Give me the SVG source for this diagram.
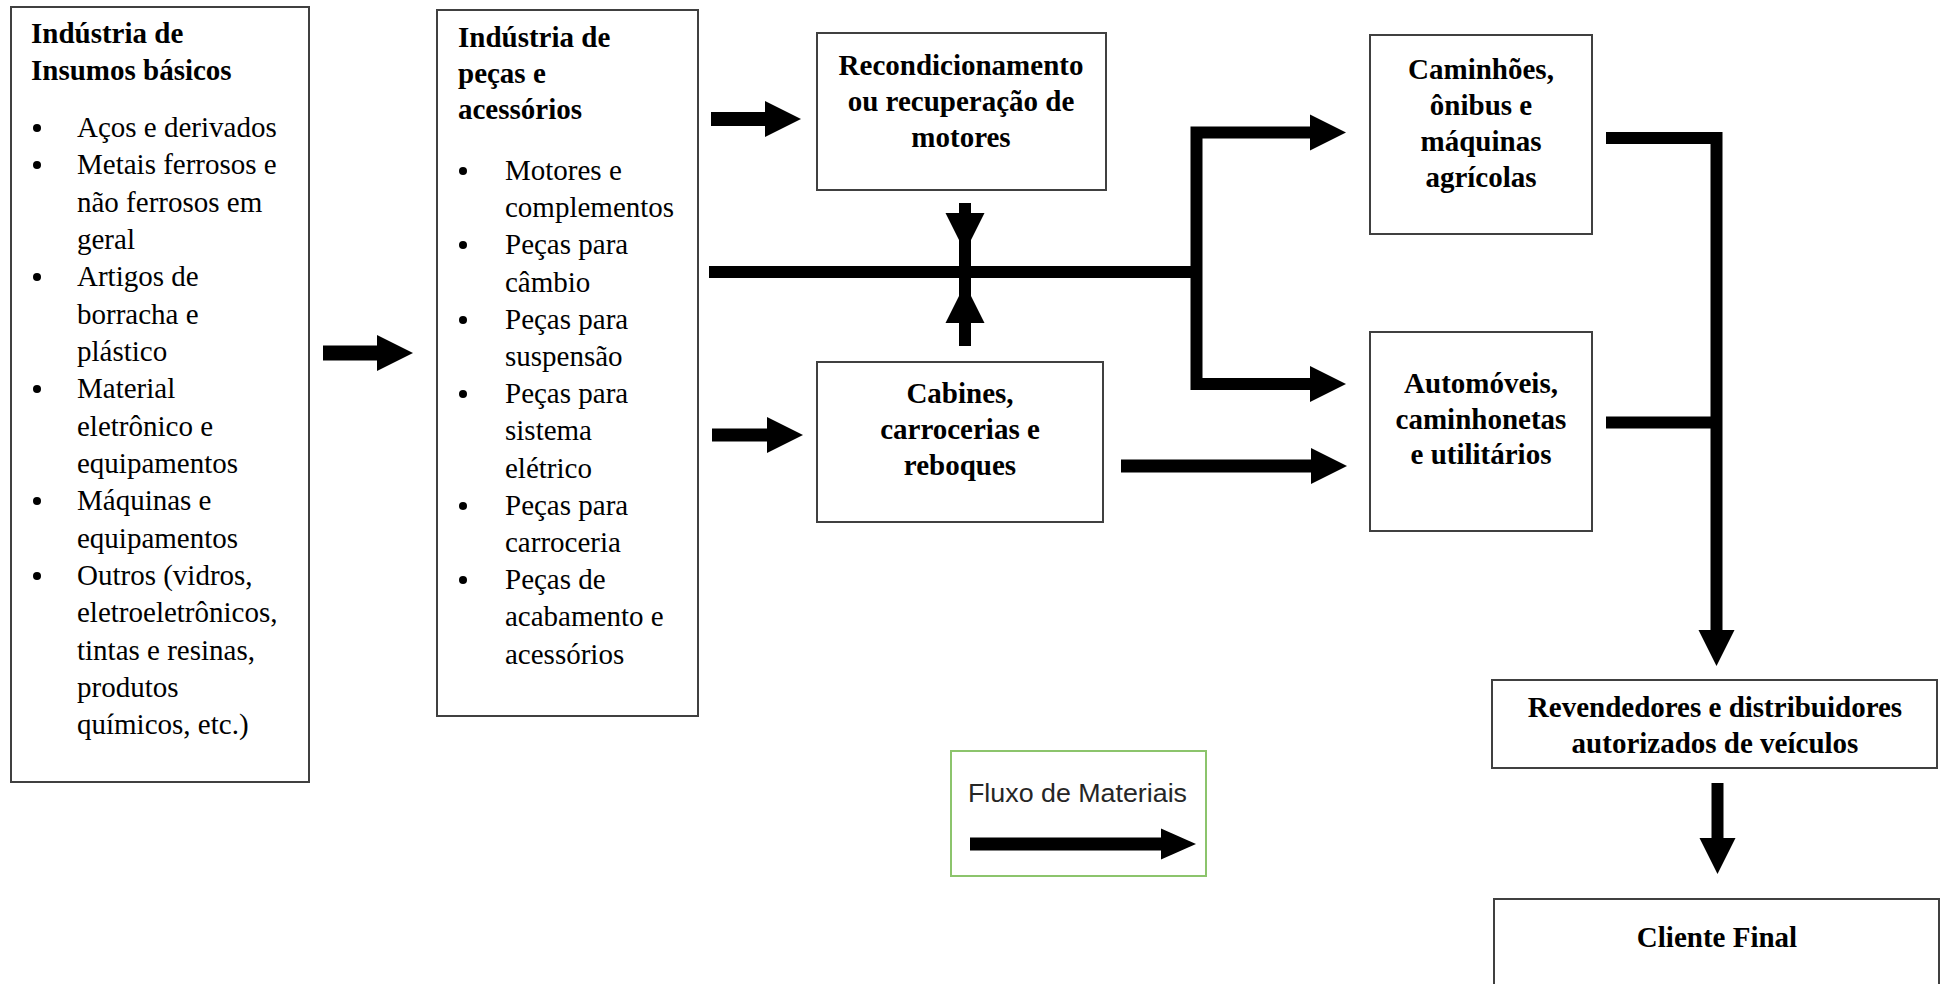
<svg xmlns="http://www.w3.org/2000/svg" width="1946" height="984" viewBox="0 0 1946 984">
<style>
.box{fill:#fff;stroke:#404040;stroke-width:2}
.t{font-family:"Liberation Serif","Times New Roman",serif;font-size:29px;fill:#000}
.b{font-weight:bold}
.c{text-anchor:middle}
.ln{fill:none;stroke:#000;stroke-width:12;stroke-linejoin:miter}
.hd{fill:#000}
</style>
<defs>
<marker id="ah" markerUnits="userSpaceOnUse" markerWidth="36" markerHeight="36" refX="0" refY="18" orient="auto" overflow="visible">
<path d="M0,0 L36,18 L0,36 z" fill="#000"/>
</marker>
</defs>
<rect width="1946" height="984" fill="#fff"/>

<g id="insumos">
<rect class="box" x="11" y="7" width="298" height="775"/>
<text class="t b" x="31" y="43">Indústria de</text>
<text class="t b" x="31" y="80">Insumos básicos</text>
<g class="t">
<text x="77" y="137">Aços e derivados</text>
<text x="77" y="174">Metais ferrosos e</text>
<text x="77" y="212">não ferrosos em</text>
<text x="77" y="249">geral</text>
<text x="77" y="286">Artigos de</text>
<text x="77" y="324">borracha e</text>
<text x="77" y="361">plástico</text>
<text x="77" y="398">Material</text>
<text x="77" y="436">eletrônico e</text>
<text x="77" y="473">equipamentos</text>
<text x="77" y="510">Máquinas e</text>
<text x="77" y="548">equipamentos</text>
<text x="77" y="585">Outros (vidros,</text>
<text x="77" y="622">eletroeletrônicos,</text>
<text x="77" y="660">tintas e resinas,</text>
<text x="77" y="697">produtos</text>
<text x="77" y="734">químicos, etc.)</text>
</g>
<g class="hd">
<circle cx="37" cy="128" r="4"/>
<circle cx="37" cy="165" r="4"/>
<circle cx="37" cy="277" r="4"/>
<circle cx="37" cy="389" r="4"/>
<circle cx="37" cy="501" r="4"/>
<circle cx="37" cy="576" r="4"/>
</g>
</g>

<g id="pecas">
<rect class="box" x="437" y="10" width="261" height="706"/>
<text class="t b" x="458" y="47">Indústria de</text>
<text class="t b" x="458" y="83">peças e</text>
<text class="t b" x="458" y="119">acessórios</text>
<g class="t">
<text x="505" y="180">Motores e</text>
<text x="505" y="217">complementos</text>
<text x="505" y="254">Peças para</text>
<text x="505" y="292">câmbio</text>
<text x="505" y="329">Peças para</text>
<text x="505" y="366">suspensão</text>
<text x="505" y="403">Peças para</text>
<text x="505" y="440">sistema</text>
<text x="505" y="478">elétrico</text>
<text x="505" y="515">Peças para</text>
<text x="505" y="552">carroceria</text>
<text x="505" y="589">Peças de</text>
<text x="505" y="626">acabamento e</text>
<text x="505" y="664">acessórios</text>
</g>
<g class="hd">
<circle cx="463" cy="171" r="4"/>
<circle cx="463" cy="245" r="4"/>
<circle cx="463" cy="320" r="4"/>
<circle cx="463" cy="394" r="4"/>
<circle cx="463" cy="506" r="4"/>
<circle cx="463" cy="580" r="4"/>
</g>
</g>

<g id="recondicionamento">
<rect class="box" x="817" y="33" width="289" height="157"/>
<text class="t b c" x="961" y="75">Recondicionamento</text>
<text class="t b c" x="961" y="111">ou recuperação de</text>
<text class="t b c" x="961" y="147">motores</text>
</g>

<g id="cabines">
<rect class="box" x="817" y="362" width="286" height="160"/>
<text class="t b c" x="960" y="403">Cabines,</text>
<text class="t b c" x="960" y="439">carrocerias e</text>
<text class="t b c" x="960" y="475">reboques</text>
</g>

<g id="caminhoes">
<rect class="box" x="1370" y="35" width="222" height="199"/>
<text class="t b c" x="1481" y="79">Caminhões,</text>
<text class="t b c" x="1481" y="115">ônibus e</text>
<text class="t b c" x="1481" y="151">máquinas</text>
<text class="t b c" x="1481" y="187">agrícolas</text>
</g>

<g id="automoveis">
<rect class="box" x="1370" y="332" width="222" height="199"/>
<text class="t b c" x="1481" y="393">Automóveis,</text>
<text class="t b c" x="1481" y="429">caminhonetas</text>
<text class="t b c" x="1481" y="464">e utilitários</text>
</g>

<g id="revendedores">
<rect class="box" x="1492" y="680" width="445" height="88"/>
<text class="t b c" x="1715" y="717">Revendedores e distribuidores</text>
<text class="t b c" x="1715" y="753">autorizados de veículos</text>
</g>

<g id="cliente">
<rect class="box" x="1494" y="899" width="445" height="100"/>
<text class="t b c" x="1717" y="947">Cliente Final</text>
</g>

<g id="legenda">
<rect x="951" y="751" width="255" height="125" fill="#fff" stroke="#8CC46C" stroke-width="2"/>
<text x="968" y="802" font-family="Liberation Sans, Arial, sans-serif" font-size="25" fill="#262626" textLength="219" lengthAdjust="spacingAndGlyphs">Fluxo de Materiais</text>
<line x1="970" y1="844" x2="1162" y2="844" stroke="#000" stroke-width="13"/>
<polygon class="hd" points="1161,828.5 1196,844 1161,859.5"/>
</g>

<g id="conectores">
<path class="ln" style="stroke-width:15" d="M323,353 H377" marker-end="url(#ah)"/>
<path class="ln" style="stroke-width:14" d="M711,119 H765" marker-end="url(#ah)"/>
<path class="ln" style="stroke-width:13" d="M712,435 H767" marker-end="url(#ah)"/>
<path class="ln" d="M709,272 H1196.5"/>
<path class="ln" d="M1309,132.5 H1196.5 V384 H1309"/>
<path class="ln" d="M1309,384 H1310" marker-end="url(#ah)"/>
<path class="ln" d="M1309,132.5 H1310" marker-end="url(#ah)"/>
<path class="ln" style="stroke-width:13" d="M1121,466 H1311" marker-end="url(#ah)"/>
<path class="ln" d="M1606,138 H1716.5 V630" marker-end="url(#ah)"/>
<path class="ln" d="M1606,422.5 H1716.5"/>
<path class="ln" d="M1717.5,783 V838" marker-end="url(#ah)"/>
<path class="ln" d="M965,203 V346"/>
<polygon class="hd" points="945.5,213 984.5,213 965,252"/>
<polygon class="hd" points="945.5,323 984.5,323 965,284"/>
</g>
</svg>
